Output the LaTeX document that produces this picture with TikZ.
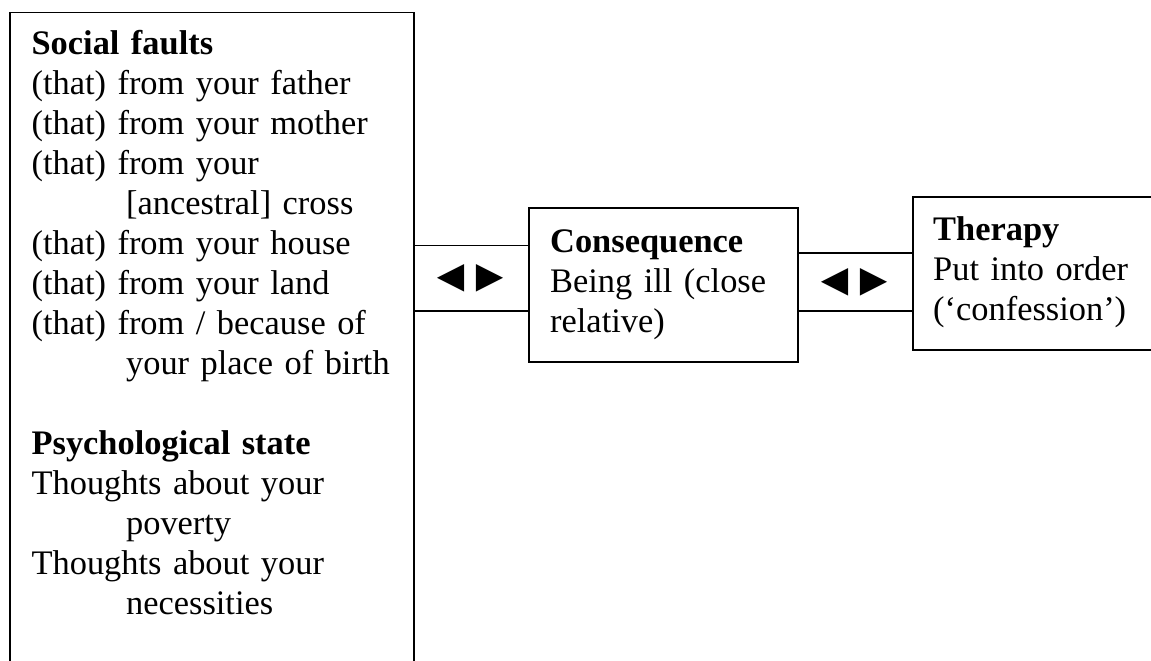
\documentclass[tikz,border=0pt]{standalone}
\usepackage{fontspec}
\setmainfont{Liberation Serif}
\usepackage{tikz}
\usetikzlibrary{positioning}

\tikzset{
  panel/.style={draw, line width=1.8pt, anchor=north west, align=left,
    inner ysep=0pt, font=\fontsize{34.4pt}{40pt}\selectfont},
  link/.style={inner sep=0pt, font=\fontsize{34.4pt}{40pt}\selectfont},
  tube/.style={line width=1.8pt},
}
\newcommand{\indentline}{\hspace*{94.5pt}}
\newcommand{\twoway}{\resizebox{45pt}{27pt}{◄}\hspace{-6pt}\resizebox{45pt}{27pt}{►}}

\begin{document}
\begin{tikzpicture}[x=1pt, y=-1pt]
    \clip (0,0) rectangle (1151,661);

    % causes, the box runs on past the page
    \node (faults) [panel, inner xsep=21.7pt, text width=360.3pt,
        text height=41.6pt, text depth=650pt] at (9,11.7)
        {\textbf{Social faults}\\
         (that) from your father\\
         (that) from your mother\\
         (that) from your\\
         \indentline[ancestral] cross\\
         (that) from your house\\
         (that) from your land\\
         (that) from / because of\\
         \indentline your place of birth\\[40pt]
         \textbf{Psychological state}\\
         Thoughts about your\\
         \indentline poverty\\
         Thoughts about your\\
         \indentline necessities};

    \node (conseq) [panel, inner xsep=21.6pt, text width=225.8pt,
        text height=44.2pt, text depth=109.5pt] at (527.7,207.3)
        {\textbf{Consequence}\\
         Being ill (close\\
         relative)};

    \node (therapy) [panel, inner xsep=20.3pt, text width=230pt,
        text height=44pt, text depth=109pt] at (912,196)
        {\textbf{Therapy}\\
         Put into order\\
         (‘confession’)};

    \node (linkA) [link, minimum height=65.3pt] at (470,278.4) {\twoway};
    \node (linkB) [link, minimum height=57.7pt] at (854.3,282.2) {\raisebox{-3.8pt}{\twoway}};

    \draw [tube] (faults.east |- linkA.north) -- (conseq.west |- linkA.north);
    \draw [tube] (faults.east |- linkA.south) -- (conseq.west |- linkA.south);
    \draw [tube] (conseq.east |- linkB.north) -- (therapy.west |- linkB.north);
    \draw [tube] (conseq.east |- linkB.south) -- (therapy.west |- linkB.south);
\end{tikzpicture}
\end{document}
